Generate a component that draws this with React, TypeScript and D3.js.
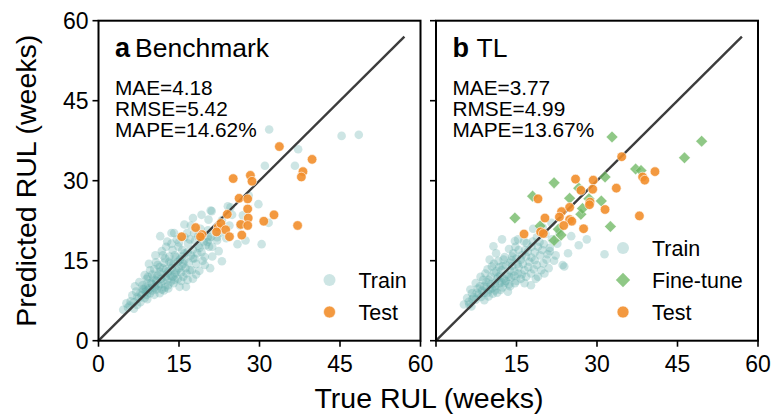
import React from "react";
import * as d3 from "d3";

// ---- data (weeks): [true RUL, predicted RUL] ----
const ticks = [0, 15, 30, 45, 60];

const trainA: [number, number][] = [
  [21.1, 24.3], [20.5, 22.7], [23.0, 22.6], [17.2, 21.6], [14.1, 20.2], [11.5, 19.6], [13.6, 20.2], [16.5, 20.2],
  [17.8, 20.2], [20.4, 20.7], [21.0, 19.5], [22.1, 18.8], [20.3, 18.5], [12.6, 17.6], [14.9, 17.6], [16.7, 18.2],
  [17.6, 17.0], [19.2, 16.6], [20.6, 17.6], [12.0, 16.0], [14.5, 15.7], [16.0, 15.1], [17.9, 15.4], [19.8, 15.7],
  [10.7, 14.7], [13.5, 14.5], [15.5, 14.0], [17.0, 13.2], [18.8, 13.1], [9.6, 13.2], [11.4, 12.9], [12.9, 12.6],
  [14.2, 12.4], [15.8, 12.0], [17.6, 11.6], [16.3, 10.1], [8.6, 12.3], [10.2, 11.8], [11.7, 11.6], [13.5, 11.1],
  [15.1, 10.1], [7.6, 11.0], [9.1, 10.8], [10.6, 10.2], [12.4, 10.0], [6.8, 10.2], [8.4, 9.7], [9.6, 8.9],
  [11.4, 8.9], [6.3, 8.5], [7.5, 7.9], [9.1, 7.8], [5.5, 6.2], [7.2, 6.7], [23.0, 14.9],
  [31.8, 39.6], [45.3, 38.4], [48.5, 38.6], [37.2, 35.9], [36.6, 32.8], [31.0, 32.8], [29.8, 25.6], [24.1, 25.2],
  [24.9, 23.6], [26.9, 23.5], [31.7, 22.1], [30.4, 18.1], [25.9, 18.1], [27.4, 18.8], [20.4, 19.5], [22.1, 19.4],
  [20.0, 17.9], [21.2, 17.6], [26.4, 21.6], [20.9, 24.4], [28.0, 27.2], [24.6, 25.0], [20.6, 19.0],
  [8.0, 8.5], [8.8, 9.2], [9.5, 9.8], [10.0, 10.6], [10.8, 11.2], [11.2, 10.4], [12.0, 11.2], [12.5, 12.0],
  [13.0, 13.0], [13.8, 12.0], [14.6, 13.2], [11.0, 12.2], [10.4, 13.4], [9.0, 11.6], [8.2, 10.4], [7.0, 9.2],
  [6.0, 7.4], [5.2, 7.0], [4.6, 5.8], [6.6, 6.0], [7.8, 7.2], [8.6, 8.0], [10.0, 9.4], [10.8, 9.6],
  [12.2, 9.4], [13.0, 10.4], [14.0, 10.8], [14.8, 11.6], [15.4, 12.8], [16.2, 13.6], [16.8, 14.6], [15.2, 15.2],
  [13.2, 15.8], [12.2, 14.6], [11.4, 13.8], [13.6, 13.6], [14.8, 14.8], [16.0, 16.4], [17.2, 16.0], [18.4, 16.4],
  [18.6, 17.8], [19.6, 18.6], [15.6, 17.0], [13.8, 17.0], [12.8, 18.6], [14.6, 19.0], [16.0, 19.4], [18.6, 19.6],
  [19.0, 21.0], [18.0, 18.8], [21.8, 21.0], [22.6, 20.2], [23.8, 19.2], [24.4, 21.6], [22.4, 16.8], [19.8, 14.2],
  [18.2, 12.4], [16.6, 11.4], [9.4, 14.4], [11.8, 16.8], [10.6, 16.0], [17.6, 23.0], [19.2, 23.6], [16.0, 21.8],
  [9.2, 9.4], [10.4, 10.0], [11.6, 10.6], [12.8, 11.4], [13.4, 12.2], [14.4, 12.8], [15.0, 13.6], [15.8, 14.4],
  [14.0, 14.4], [12.6, 13.4], [11.6, 12.4], [10.6, 11.4], [9.8, 10.8], [8.8, 10.0], [7.8, 9.0], [7.2, 8.2],
  [6.6, 7.2], [5.8, 6.6], [12.0, 13.6], [13.2, 14.8], [14.2, 16.0], [15.6, 15.8], [16.6, 16.6], [17.6, 15.4],
  [18.2, 14.4], [17.4, 13.2], [16.4, 12.6], [15.4, 11.2], [14.2, 11.4], [13.0, 9.8], [11.8, 9.6], [10.4, 8.6],
  [9.0, 8.6], [8.2, 9.6], [12.4, 15.4], [11.0, 14.2], [10.0, 12.4], [9.2, 12.0], [13.6, 18.2], [15.0, 18.4],
  [17.0, 19.0], [18.8, 17.4], [19.4, 15.0], [21.2, 15.8], [20.8, 13.6],
];

const testA: [number, number][] = [
  [33.7, 36.4], [39.8, 34.0], [38.1, 31.7], [37.8, 30.7], [25.1, 30.4], [28.3, 31.0], [28.6, 29.9], [26.2, 26.7],
  [27.8, 26.6], [27.8, 24.7], [24.0, 23.7], [27.9, 23.0], [26.5, 21.8], [27.8, 21.6], [30.8, 22.4], [32.7, 23.6],
  [37.1, 21.6], [22.3, 21.3], [22.8, 22.0], [23.7, 20.8], [24.4, 19.5], [26.7, 19.8], [18.1, 21.2], [19.3, 19.9],
  [19.0, 19.5], [15.5, 19.5], [22.0, 20.4],
];

const trainB: [number, number][] = [
  [12.3, 19.0], [10.7, 17.7], [15.3, 19.0], [16.9, 18.3], [15.4, 17.0], [17.1, 16.7], [19.0, 17.6], [20.1, 18.1],
  [20.8, 16.2], [22.0, 15.0], [18.4, 15.1], [20.0, 14.5], [12.8, 15.7], [14.1, 15.1], [11.6, 15.0], [10.4, 13.9],
  [12.2, 13.2], [13.8, 13.2], [15.3, 12.6], [16.5, 13.2], [17.7, 12.6], [19.0, 12.0], [20.2, 12.6], [9.2, 12.6],
  [8.3, 12.0], [9.8, 11.4], [11.4, 11.6], [12.8, 10.8], [14.7, 10.8], [16.5, 10.8], [17.7, 10.4], [7.4, 10.8],
  [8.9, 10.2], [10.4, 9.8], [12.0, 9.5], [13.4, 9.2], [6.7, 8.9], [8.0, 8.7], [9.8, 8.3], [6.1, 7.3],
  [7.4, 7.7], [23.9, 13.9], [31.4, 16.2], [28.1, 19.0], [26.6, 17.9], [23.6, 14.2], [21.5, 22.1], [14.7, 18.7],
  [18.1, 21.0], [19.9, 21.2], [23.0, 20.3], [19.3, 18.5], [21.2, 17.4], [22.3, 16.0],
  [8.6, 9.4], [9.4, 10.0], [10.2, 10.6], [11.0, 10.2], [11.8, 10.8], [12.6, 11.6], [13.2, 12.4], [14.0, 11.8],
  [14.6, 12.2], [15.4, 13.8], [16.2, 14.4], [13.0, 14.2], [11.8, 13.8], [10.8, 12.8], [9.6, 13.4], [8.8, 11.4],
  [7.8, 9.8], [7.0, 8.2], [5.8, 8.0], [6.4, 9.6], [9.0, 7.6], [10.6, 8.8], [11.4, 9.0], [13.8, 10.2],
  [15.8, 11.6], [16.8, 12.0], [18.2, 13.4], [18.8, 14.2], [17.4, 14.8], [16.0, 16.0], [14.4, 16.4], [13.6, 17.2],
  [17.8, 17.6], [19.4, 16.0], [21.2, 16.8], [21.6, 19.0], [22.6, 18.2], [11.2, 16.4], [12.0, 12.2], [10.0, 15.2],
  [14.2, 14.0], [15.0, 15.4], [16.6, 17.0], [18.8, 19.4], [20.4, 20.0], [24.6, 16.4], [25.2, 19.6], [19.6, 13.2],
  [5.2, 6.8], [6.6, 6.4],
  [9.0, 9.0], [10.0, 9.6], [11.0, 10.8], [12.2, 11.0], [13.0, 11.2], [13.6, 12.0], [14.6, 13.0], [15.2, 14.4],
  [13.8, 14.6], [12.4, 14.0], [11.2, 13.0], [10.2, 12.0], [9.4, 11.0], [8.2, 10.2], [7.6, 9.0], [6.8, 7.8],
  [6.2, 6.8], [12.6, 15.2], [14.2, 15.8], [15.8, 15.2], [16.8, 15.8], [17.8, 15.6], [18.4, 16.6], [17.2, 13.8],
  [16.0, 12.4], [15.0, 11.2], [13.6, 10.6], [12.4, 10.0], [11.0, 9.4], [9.6, 9.0], [8.4, 8.2], [10.8, 14.4],
  [11.6, 12.0], [14.8, 17.6], [16.4, 18.6], [18.0, 18.6], [19.8, 17.0], [20.6, 15.2], [21.0, 13.6], [18.6, 11.6],
];

const fineB: [number, number][] = [
  [32.8, 38.2], [49.5, 37.4], [46.3, 34.3], [37.2, 32.2], [38.2, 31.9], [31.5, 30.7], [22.0, 29.6], [18.0, 27.1],
  [24.9, 26.7], [26.6, 28.6], [30.8, 26.2], [28.5, 26.6], [27.0, 23.7], [14.7, 23.0], [32.5, 21.4], [22.8, 20.9],
  [23.3, 19.8], [22.0, 18.8], [19.4, 21.5], [27.3, 24.8],
];

const testB: [number, number][] = [
  [34.6, 34.5], [40.8, 31.7], [38.5, 30.7], [38.9, 30.1], [26.0, 30.3], [29.3, 30.1], [33.6, 28.6], [27.0, 28.2],
  [29.2, 28.4], [19.0, 26.6], [28.7, 26.0], [28.6, 25.5], [24.9, 25.0], [31.5, 24.6], [23.4, 24.2], [20.3, 23.0],
  [23.0, 23.2], [24.9, 22.7], [25.3, 22.4], [37.9, 23.4], [27.5, 21.0], [19.5, 20.4], [20.0, 20.1], [16.4, 20.0],
  [23.8, 21.6],
];

const statsA = ["MAE=4.18", "RMSE=5.42", "MAPE=14.62%"];
const statsB = ["MAE=3.77", "RMSE=4.99", "MAPE=13.67%"];

// ---- styling ----
const FONT = "'Liberation Sans', Arial, Helvetica, sans-serif";
const TRAIN = "#5aaaa5";
const TEST = "#f28e2b";
const FINE = "#6ab65e";
const W = 776;
const H = 416;

const yScale = d3.scaleLinear().domain([0, 60]).range([340.7, 20.7]);
const diagEnd = 57;

type PanelProps = {
  left: number;
  right: number;
  letter: string;
  titleGap: number;
  title: string;
  stats: string[];
  train: [number, number][];
  fine?: [number, number][];
  test: [number, number][];
  showYLabels: boolean;
  showZeroX: boolean;
  legendX: number;
};

function diamond(cx: number, cy: number, r: number) {
  return `M${cx},${cy - r}L${cx + r},${cy}L${cx},${cy + r}L${cx - r},${cy}Z`;
}

function Panel(p: PanelProps) {
  const x = d3.scaleLinear().domain([0, 60]).range([p.left, p.right]);
  const y = yScale;
  const [y0, y1] = y.range();
  const textX = p.left + 16.5;
  const legendItems: { label: string; kind: "train" | "fine" | "test" }[] = p.fine
    ? [
        { label: "Train", kind: "train" },
        { label: "Fine-tune", kind: "fine" },
        { label: "Test", kind: "test" },
      ]
    : [
        { label: "Train", kind: "train" },
        { label: "Test", kind: "test" },
      ];
  const legendBottom = 312;
  return (
    <g>
      {p.train.map((d, i) => (
        <circle key={"tr" + i} cx={x(d[0])} cy={y(d[1])} r={4.3} fill={TRAIN} fillOpacity={0.3} />
      ))}
      <line x1={x(0)} y1={y(0)} x2={x(diagEnd)} y2={y(diagEnd)} stroke="#3c3c3c" strokeWidth={2.4} />
      {(p.fine || []).map((d, i) => (
        <path key={"ft" + i} d={diamond(x(d[0]), y(d[1]), 5.8)} fill={FINE} fillOpacity={0.75} stroke="#fff" strokeWidth={0.5} strokeOpacity={0.6} />
      ))}
      {p.test.map((d, i) => (
        <circle key={"te" + i} cx={x(d[0])} cy={y(d[1])} r={4.8} fill={TEST} fillOpacity={0.9} stroke="#fff" strokeWidth={0.6} />
      ))}

      {/* frame */}
      <rect x={p.left} y={y1} width={p.right - p.left} height={y0 - y1} fill="none" stroke="#000" strokeWidth={2} />

      {/* ticks */}
      {ticks.map((t) => (
        <g key={"xt" + t}>
          <line x1={x(t)} x2={x(t)} y1={y0} y2={y0 + 6} stroke="#000" strokeWidth={1.6} />
          {(t !== 0 || p.showZeroX) && (
            <text x={x(t)} y={y0 + 31} textAnchor="middle" fontSize={23} fontFamily={FONT} fill="#000">
              {t}
            </text>
          )}
        </g>
      ))}
      {ticks.map((t) => (
        <g key={"yt" + t}>
          <line x1={p.left - 6} x2={p.left} y1={y(t)} y2={y(t)} stroke="#000" strokeWidth={1.6} />
          {p.showYLabels && (
            <text x={p.left - 10} y={y(t)} dy="0.35em" textAnchor="end" fontSize={23} fontFamily={FONT} fill="#000">
              {t}
            </text>
          )}
        </g>
      ))}

      {/* title + metrics */}
      <text x={textX} y={56.5} fontSize={27} fontWeight="bold" fontFamily={FONT} fill="#000">
        {p.letter}
      </text>
      <text x={textX + p.titleGap} y={56.5} fontSize={26.5} fontFamily={FONT} fill="#000">
        {p.title}
      </text>
      {p.stats.map((s, i) => (
        <text key={s} x={textX} y={94.5 + i * 21} fontSize={20.8} fontFamily={FONT} fill="#000">
          {s}
        </text>
      ))}

      {/* legend */}
      {legendItems.map((it, i) => {
        const cy = legendBottom - (legendItems.length - 1 - i) * 32;
        const cx = p.legendX;
        return (
          <g key={it.label}>
            {it.kind === "train" && <circle cx={cx} cy={cy} r={6} fill={TRAIN} fillOpacity={0.3} />}
            {it.kind === "test" && <circle cx={cx} cy={cy} r={6} fill={TEST} fillOpacity={0.9} stroke="#fff" strokeWidth={0.6} />}
            {it.kind === "fine" && <path d={diamond(cx, cy, 7.2)} fill={FINE} fillOpacity={0.75} />}
            <text x={cx + 29} y={cy} dy="0.35em" fontSize={21.5} fontFamily={FONT} fill="#000">
              {it.label}
            </text>
          </g>
        );
      })}
    </g>
  );
}

export default function App() {
  return (
    <svg
      width={W}
      height={H}
      viewBox={`0 0 ${W} ${H}`}
      style={{ position: "absolute", left: 0, top: 0, background: "#fff" }}
    >
      <rect width={W} height={H} fill="#fff" />
      <Panel
        left={98.5}
        right={420.5}
        letter="a"
        titleGap={20}
        title="Benchmark"
        stats={statsA}
        train={trainA}
        test={testA}
        showYLabels={true}
        showZeroX={true}
        legendX={329.5}
      />
      <Panel
        left={436}
        right={758}
        letter="b"
        titleGap={24}
        title="TL"
        stats={statsB}
        train={trainB}
        fine={fineB}
        test={testB}
        showYLabels={false}
        showZeroX={false}
        legendX={623}
      />
      <text
        transform={`translate(36,${(340.7 + 20.7) / 2}) rotate(-90)`}
        textAnchor="middle"
        fontSize={28.5}
        fontFamily={FONT}
        fill="#000"
      >
        Predicted RUL (weeks)
      </text>
      <text x={429} y={408} textAnchor="middle" fontSize={28.5} fontFamily={FONT} fill="#000">
        True RUL (weeks)
      </text>
    </svg>
  );
}
